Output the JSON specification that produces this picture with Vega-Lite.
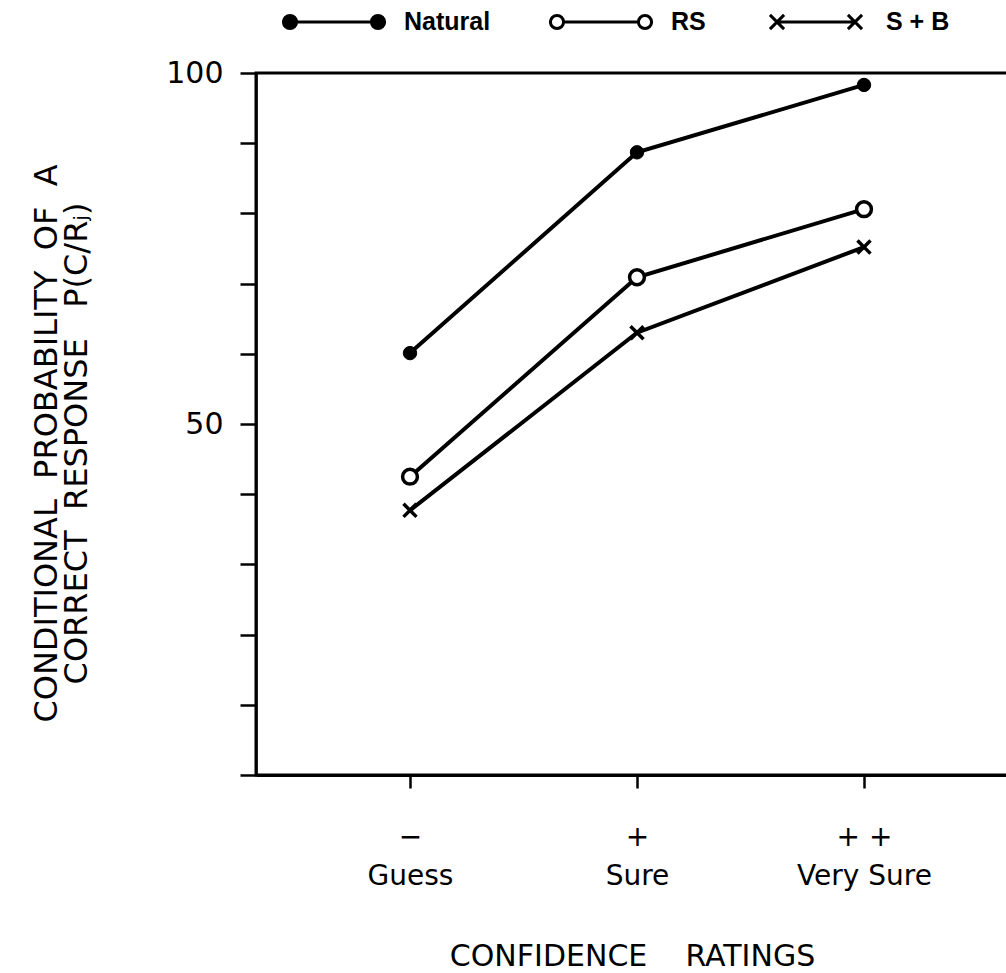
{
  "$schema": "https://vega.github.io/schema/vega-lite/v6.json",
  "width": 752,
  "height": 702,
  "autosize": {"type": "none"},
  "padding": {"left": 256, "top": 73, "right": 0, "bottom": 198},
  "background": "white",
  "config": {
    "view": {"stroke": "black", "strokeWidth": 3},
    "axis": {"grid": false}
  },
  "data": {
    "values": [
      {"series": "Natural", "rating": 1, "p": 60.1},
      {"series": "Natural", "rating": 2, "p": 88.7},
      {"series": "Natural", "rating": 3, "p": 98.3},
      {"series": "RS", "rating": 1, "p": 42.5},
      {"series": "RS", "rating": 2, "p": 70.9},
      {"series": "RS", "rating": 3, "p": 80.6},
      {"series": "S + B", "rating": 1, "p": 37.7},
      {"series": "S + B", "rating": 2, "p": 63.0},
      {"series": "S + B", "rating": 3, "p": 75.2}
    ]
  },
  "encoding": {
    "x": {
      "field": "rating",
      "type": "quantitative",
      "scale": {"domain": [0.3216, 3.6344], "nice": false, "zero": false},
      "axis": {
        "values": [1, 2, 3],
        "labelExpr": "datum.value == 1 ? ['−','Guess'] : datum.value == 2 ? ['+','Sure'] : ['+ +','Very Sure']",
        "title": "CONFIDENCE\u00a0\u00a0\u00a0\u00a0RATINGS",
        "tickSize": 13,
        "tickWidth": 2.5,
        "tickColor": "black",
        "domainColor": "black",
        "domainWidth": 3,
        "labelFont": "DejaVu Sans",
        "labelFontSize": 28,
        "labelColor": "black",
        "labelBaseline": "alphabetic",
        "labelPadding": 57,
        "labelLineHeight": 39,
        "labelFlush": false,
        "labelOverlap": false,
        "titleFont": "DejaVu Sans",
        "titleFontSize": 30,
        "titleFontWeight": "normal",
        "titleColor": "black",
        "titleBaseline": "alphabetic",
        "titleY": 190
      }
    },
    "y": {
      "field": "p",
      "type": "quantitative",
      "scale": {"domain": [0, 100], "nice": false},
      "axis": {
        "values": [0, 10, 20, 30, 40, 50, 60, 70, 80, 90, 100],
        "labelExpr": "datum.value == 100 || datum.value == 50 ? datum.label : ''",
        "tickSize": 16,
        "tickWidth": 2.5,
        "tickColor": "black",
        "domainColor": "black",
        "domainWidth": 2.5,
        "labelFont": "DejaVu Sans",
        "labelFontSize": 30,
        "labelColor": "black",
        "labelPadding": 17,
        "labelFlush": false,
        "labelOverlap": false,
        "title": ["CONDITIONAL\u00a0\u00a0PROBABILITY\u00a0\u00a0OF\u00a0\u00a0A", "CORRECT\u00a0\u00a0RESPONSE\u00a0\u00a0\u00a0P(C/Rⱼ)"],
        "titleFont": "DejaVu Sans",
        "titleFontSize": 32,
        "titleFontWeight": "normal",
        "titleColor": "black",
        "titleAngle": 270,
        "titleAlign": "center",
        "titleBaseline": "alphabetic",
        "titleLineHeight": 30,
        "titleX": -200,
        "titleY": 370
      }
    }
  },
  "layer": [
    {
      "mark": {"type": "line", "stroke": "black", "strokeWidth": 4},
      "encoding": {"detail": {"field": "series"}}
    },
    {
      "transform": [{"filter": "datum.series == 'Natural'"}],
      "mark": {"type": "point", "shape": "circle", "filled": true, "fill": "black", "stroke": "black", "strokeWidth": 1, "size": 180, "opacity": 1}
    },
    {
      "transform": [{"filter": "datum.series == 'RS'"}],
      "mark": {"type": "point", "shape": "circle", "filled": true, "fill": "white", "stroke": "black", "strokeWidth": 3.5, "size": 220, "opacity": 1}
    },
    {
      "transform": [{"filter": "datum.series == 'S + B'"}],
      "mark": {"type": "point", "shape": "M-1,-1L1,1M-1,1L1,-1", "filled": false, "stroke": "black", "strokeWidth": 3.5, "size": 170, "opacity": 1}
    },
    {
      "mark": {"type": "point", "size": 10201, "opacity": 0, "strokeWidth": 3},
      "encoding": {
        "shape": {
          "field": "series",
          "type": "nominal",
          "scale": {
            "domain": ["Natural", "RS", "S + B"],
            "range": [
              "M-0.741,0L0.741,0M-0.741,0A0.13,0.13,0,1,1,-1.001,0A0.13,0.13,0,1,1,-0.741,0ZM1.001,0A0.13,0.13,0,1,1,0.741,0A0.13,0.13,0,1,1,1.001,0Z",
              "M-0.741,0L0.741,0M-0.741,0A0.13,0.13,0,1,1,-1.001,0A0.13,0.13,0,1,1,-0.741,0ZM1.001,0A0.13,0.13,0,1,1,0.741,0A0.13,0.13,0,1,1,1.001,0Z",
              "M-0.912,-0.14L-0.632,0.14M-0.912,0.14L-0.632,-0.14M0.632,-0.14L0.912,0.14M0.632,0.14L0.912,-0.14M-0.772,0L0.772,0"
            ]
          },
          "legend": {
            "orient": "none", "legendX": 26, "legendY": -66, "direction": "horizontal",
            "title": null, "padding": 0, "columnPadding": 58, "clipHeight": 30,
            "symbolSize": 10201,
            "symbolOpacity": 1, "symbolStrokeWidth": 3,
            "symbolOffset": 0, "labelOffset": 18,
            "labelFont": "Liberation Sans", "labelFontSize": 25, "labelFontWeight": "bold", "labelColor": "black"
          }
        },
        "fill": {
          "field": "series",
          "type": "nominal",
          "scale": {"domain": ["Natural", "RS", "S + B"], "range": ["black", "white", "white"]},
          "legend": {
            "orient": "none", "legendX": 26, "legendY": -66, "direction": "horizontal",
            "title": null, "padding": 0, "columnPadding": 58, "clipHeight": 30,
            "symbolSize": 10201,
            "symbolOpacity": 1, "symbolStrokeWidth": 3,
            "symbolOffset": 0, "labelOffset": 18,
            "labelFont": "Liberation Sans", "labelFontSize": 25, "labelFontWeight": "bold", "labelColor": "black"
          }
        },
        "stroke": {
          "field": "series",
          "type": "nominal",
          "scale": {"domain": ["Natural", "RS", "S + B"], "range": ["black", "black", "black"]},
          "legend": {
            "orient": "none", "legendX": 26, "legendY": -66, "direction": "horizontal",
            "title": null, "padding": 0, "columnPadding": 58, "clipHeight": 30,
            "symbolSize": 10201,
            "symbolOpacity": 1, "symbolStrokeWidth": 3,
            "symbolOffset": 0, "labelOffset": 18,
            "labelFont": "Liberation Sans", "labelFontSize": 25, "labelFontWeight": "bold", "labelColor": "black"
          }
        }
      }
    }
  ]
}
